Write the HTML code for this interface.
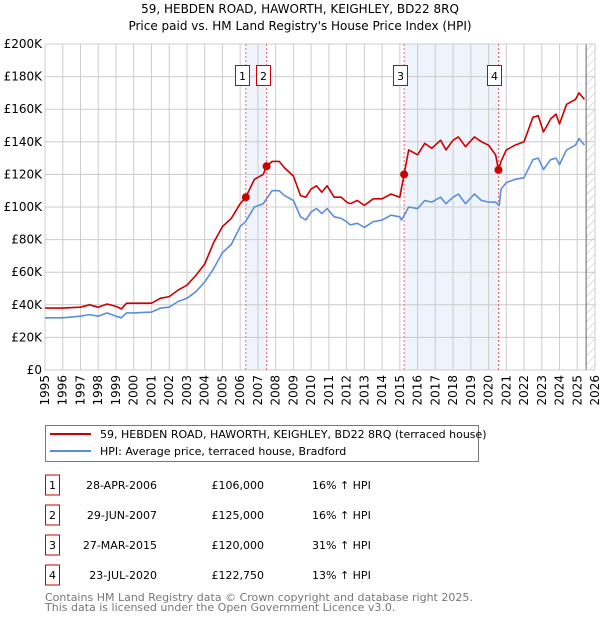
<!DOCTYPE html>
<html><head><meta charset="utf-8"><style>
body{margin:0;background:#fff;}
svg{display:block;font-family:"DejaVu Sans","Liberation Sans",sans-serif;}
</style></head><body>
<svg id="chart" width="600" height="620" xmlns="http://www.w3.org/2000/svg">
<defs><pattern id="hatch" width="6" height="6" patternUnits="userSpaceOnUse" patternTransform="rotate(45)"><line x1="0" y1="0" x2="0" y2="6" stroke="#bbb" stroke-width="1"/></pattern></defs>
<text x="300" y="13" text-anchor="middle" font-size="12">59, HEBDEN ROAD, HAWORTH, KEIGHLEY, BD22 8RQ</text>
<text x="300" y="30" text-anchor="middle" font-size="12">Price paid vs. HM Land Registry's House Price Index (HPI)</text>
<g id="plot"></g>
<g>
<rect x="45.5" y="425.5" width="433" height="36" fill="#fff" stroke="#777"/>
<line x1="50" y1="434" x2="91" y2="434" stroke="#cc0000" stroke-width="2"/>
<text x="100" y="438" font-size="11">59, HEBDEN ROAD, HAWORTH, KEIGHLEY, BD22 8RQ (terraced house)</text>
<line x1="50" y1="451" x2="91" y2="451" stroke="#5b8ed6" stroke-width="2"/>
<text x="100" y="455" font-size="11">HPI: Average price, terraced house, Bradford</text>
</g>
<g id="table" font-size="11"></g>
<text x="45" y="601" font-size="11" fill="#777">Contains HM Land Registry data © Crown copyright and database right 2025.</text>
<text x="45" y="611" font-size="11" fill="#777">This data is licensed under the Open Government Licence v3.0.</text>
</svg>
<script>
const hpiYears=[1995,1996,1997,1997.5,1998,1998.5,1999,1999.3,1999.6,2000,2001,2001.5,2002,2002.5,2003,2003.5,2004,2004.5,2005,2005.5,2006,2006.3,2006.8,2007.3,2007.8,2008.2,2008.5,2009,2009.4,2009.7,2010,2010.3,2010.6,2010.9,2011.3,2011.7,2012,2012.2,2012.6,2013,2013.5,2014,2014.5,2015,2015.1,2015.5,2016,2016.4,2016.8,2017.3,2017.6,2018,2018.3,2018.7,2019.2,2019.6,2020,2020.4,2020.6,2020.7,2021,2021.5,2022,2022.5,2022.8,2023.1,2023.5,2023.8,2024,2024.4,2024.9,2025.1,2025.4];
const hpiValues=[32,32,33,34,33,35,33,32,35,35,35.5,38,38.5,42,44,48,54,62,72,77,88,91,100,102,110,110,107,104,94,92,97,99,96,99,94,93,91,89,90,87.5,91,92,95,94,92,100,99,104,103,106,102,106,108,102,108,104,103,103,101,111,115,117,118,129,130,123,129,130,126,135,138,142,138];
const priceYears=[1995,1996,1997,1997.5,1998,1998.5,1999,1999.3,1999.6,2000,2001,2001.5,2002,2002.5,2003,2003.5,2004,2004.5,2005,2005.5,2006,2006.32,2006.8,2007.3,2007.49,2007.8,2008.2,2008.5,2009,2009.4,2009.7,2010,2010.3,2010.6,2010.9,2011.3,2011.7,2012,2012.2,2012.6,2013,2013.5,2014,2014.5,2015,2015.24,2015.5,2016,2016.4,2016.8,2017.3,2017.6,2018,2018.3,2018.7,2019.2,2019.6,2020,2020.4,2020.56,2020.7,2021,2021.5,2022,2022.5,2022.8,2023.1,2023.5,2023.8,2024,2024.4,2024.9,2025.1,2025.4];
const priceValues=[38,38,38.5,40,38.5,40.5,39,37.5,41,41,41,44,45,49,52,58,65,78,88,93,102,106,117,120,125,128,128,124,119,107,106,111,113,109,113,106,106,103,102,104,101,105,105,108,106,120,135,132,139,136,141,135,141,143,137,143,140,138,132,122.75,128,135,138,140,155,156,146,154,157,151,163,166,170,166];
const saleLabels=["1","2","3","4"];
const saleYears=[2006.32,2007.49,2015.24,2020.56];
const salePrices=[106,125,120,122.75];
const saleDates=["28-APR-2006","29-JUN-2007","27-MAR-2015","23-JUL-2020"];
const salePriceText=["£106,000","£125,000","£120,000","£122,750"];
const saleHpiText=["16% ↑ HPI","16% ↑ HPI","31% ↑ HPI","13% ↑ HPI"];
const yTicks=[0,20,40,60,80,100,120,140,160,180,200];
const yTickLabels=["£0","£20K","£40K","£60K","£80K","£100K","£120K","£140K","£160K","£180K","£200K"];
const xTicks=[1995,1996,1997,1998,1999,2000,2001,2002,2003,2004,2005,2006,2007,2008,2009,2010,2011,2012,2013,2014,2015,2016,2017,2018,2019,2020,2021,2022,2023,2024,2025,2026];

const X0=45,X1=595,Y0=370,Y1=44;
const xs=y=>X0+(y-1995)/(2026-1995)*(X1-X0);
const ys=v=>Y0-v/200*(Y0-Y1);
const NS="http://www.w3.org/2000/svg";
function mk(tag,attrs,parent){const e=document.createElementNS(NS,tag);for(const k in attrs)e.setAttribute(k,attrs[k]);parent.appendChild(e);return e;}
const plot=document.getElementById('plot');
for(const [a,b] of [[0,1],[2,3]]){
 const r=mk('rect',{x:xs(saleYears[a]),y:Y1,width:xs(saleYears[b])-xs(saleYears[a]),height:Y0-Y1,fill:'#eef3fc'},plot);
 
 
}
const h=mk('rect',{x:xs(2025.5),y:Y1,width:X1-xs(2025.5),height:Y0-Y1,fill:'url(#hatch)'},plot);


yTicks.forEach((t,i)=>{
 mk('line',{x1:X0,x2:X1,y1:ys(t),y2:ys(t),stroke:'#ccc','stroke-width':1},plot);
 const tx=mk('text',{x:X0-3,y:ys(t)+4,'text-anchor':'end','font-size':12},plot);
 tx.textContent=yTickLabels[i];
 
 
});
xTicks.forEach(t=>{
 mk('line',{x1:xs(t),x2:xs(t),y1:Y1,y2:Y0,stroke:'#ccc','stroke-width':1},plot);
 const tx=mk('text',{x:0,y:0,'text-anchor':'end','font-size':12,transform:`translate(${xs(t)+4},${Y0+5}) rotate(-90)`},plot);
 tx.textContent=t;
 
 
});
mk('line',{x1:xs(2025.5),x2:xs(2025.5),y1:Y1,y2:Y0,stroke:'#666','stroke-width':1},plot);
mk('rect',{x:X0,y:Y1,width:X1-X0,height:Y0-Y1,fill:'none',stroke:'#ccc'},plot);
saleYears.forEach((s,i)=>{
 const l=mk('line',{x1:xs(s),x2:xs(s),y1:Y1,y2:Y0,stroke:'#e66','stroke-width':1,'stroke-dasharray':'2,2'},plot);
 
 
});
function path(xa,va,col,name){
 const d=xa.map((x,i)=>(i?'L':'M')+xs(x).toFixed(1)+','+ys(va[i]).toFixed(1)).join('');
 const p=mk('path',{d,fill:'none',stroke:col,'stroke-width':1.6,'stroke-linejoin':'round'},plot);
 
 
}
path(hpiYears,hpiValues,'#5b8ed6','hpi-line');
path(priceYears,priceValues,'#cc0000','price-paid-line');
saleYears.forEach((s,i)=>{
 const c=mk('circle',{cx:xs(s),cy:ys(salePrices[i]),r:4,fill:'#cc0000'},plot);
 
 
 const bxx=Math.round(xs(s))-10.5;
 const bx=mk('rect',{x:bxx,y:65.5,width:14,height:20,fill:'#fff',stroke:'#cc0000'},plot);
 
 
 const t=mk('text',{x:bxx+7,y:80,'text-anchor':'middle','font-size':11},plot);
 t.textContent=saleLabels[i];
});
const tb=document.getElementById('table');
saleLabels.forEach((lab,i)=>{
 const y=485+i*30;
 const g=mk('g',{},tb);
 
 
 mk('rect',{x:45.5,y:y-10,width:14,height:20,fill:'#fff',stroke:'#cc0000'},g);
 mk('text',{x:52.5,y:y+4,'text-anchor':'middle'},g).textContent=lab;
 mk('text',{x:157,y:y+4,'text-anchor':'end'},g).textContent=saleDates[i];
 mk('text',{x:264,y:y+4,'text-anchor':'end'},g).textContent=salePriceText[i];
 mk('text',{x:312,y:y+4},g).textContent=saleHpiText[i];
});
</script>
</body></html>
